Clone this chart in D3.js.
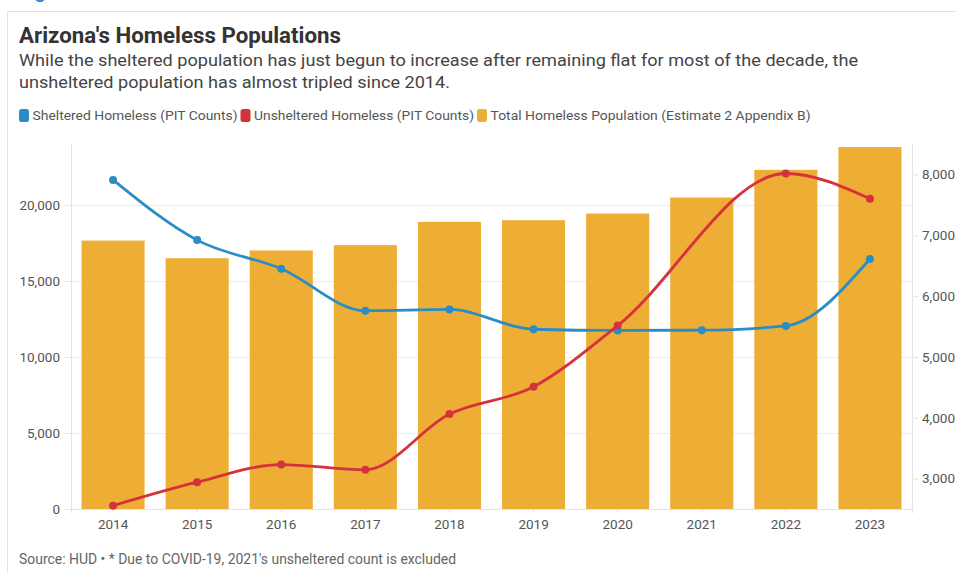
<!DOCTYPE html>
<html>
<head>
<meta charset="utf-8">
<script src="https://cdn.jsdelivr.net/npm/d3@7"></script>
<style>
  html, body { margin: 0; padding: 0; background: #fff; }
  svg { display: block; font-family: Roboto, "Noto Sans", sans-serif; }
</style>
</head>
<body>
<svg id="chart" width="956" height="573"></svg>
<script>
// Arizona homeless counts by year
const years = ["2014","2015","2016","2017","2018","2019","2020","2021","2022","2023"];
const totalEstimate = [17650, 16490, 17000, 17350, 18880, 18990, 19430, 20480, 22300, 23800];
const sheltered = [7910, 6920, 6450, 5760, 5780, 5455, 5435, 5440, 5510, 6610];
// 2021 unsheltered count was not taken (COVID-19)
const unsheltered = [2555, 2940, 3230, 3145, 4060, 4510, 5515, null, 8015, 7600];

const leftTicks = [0, 5000, 10000, 15000, 20000];
const rightTicks = [3000, 4000, 5000, 6000, 7000, 8000];

const colors = { sheltered: "#2a8dc5", unsheltered: "#d5323b", total: "#eeae36" };

const svg = d3.select("#chart");

// page frame
svg.append("line").attr("x1", 7.5).attr("x2", 956).attr("y1", 11.5).attr("y2", 11.5)
  .attr("stroke", "#e2e2e2");
svg.append("line").attr("x1", 7.5).attr("x2", 7.5).attr("y1", 11.5).attr("y2", 573)
  .attr("stroke", "#e2e2e2");
svg.append("text").attr("x", 34).attr("y", -3).attr("font-size", 22)
  .attr("fill", "#2a7fd0").text("g");

// header
svg.append("text").attr("x", 19).attr("y", 43).attr("font-size", 22)
  .attr("font-weight", 700).attr("fill", "#333")
  .attr("textLength", 322).attr("lengthAdjust", "spacingAndGlyphs")
  .text("Arizona's Homeless Populations");
const sub = svg.append("text").attr("x", 19).attr("font-size", 17.4).attr("fill", "#444");
sub.append("tspan").attr("x", 19).attr("y", 66)
  .attr("textLength", 839).attr("lengthAdjust", "spacingAndGlyphs")
  .text("While the sheltered population has just begun to increase after remaining flat for most of the decade, the");
sub.append("tspan").attr("x", 19).attr("y", 88)
  .attr("textLength", 431).attr("lengthAdjust", "spacingAndGlyphs")
  .text("unsheltered population has almost tripled since 2014.");

// legend
const legendItems = [
  { label: "Sheltered Homeless (PIT Counts)", color: colors.sheltered, w: 205 },
  { label: "Unsheltered Homeless (PIT Counts)", color: colors.unsheltered, w: 220 },
  { label: "Total Homeless Population (Estimate 2 Appendix B)", color: colors.total, w: 320 }
];
let lx = 19;
legendItems.forEach(item => {
  svg.append("rect").attr("x", lx).attr("y", 109).attr("width", 10).attr("height", 13)
    .attr("rx", 2.5).attr("fill", item.color);
  svg.append("text").attr("x", lx + 13.5).attr("y", 120).attr("font-size", 13.6)
    .attr("fill", "#555").attr("textLength", item.w).attr("lengthAdjust", "spacingAndGlyphs")
    .text(item.label);
  lx += 13.5 + item.w + 3;
});

// plot area
const plot = { left: 71, right: 912, top: 144, bottom: 509 };

const x = d3.scaleBand().domain(years).range([plot.left, plot.right])
  .paddingInner(0.25).paddingOuter(0.125);
const yLeft = d3.scaleLinear().domain([0, 24000]).range([plot.bottom, plot.top]);
const yRight = d3.scaleLinear().domain([2500, 8500]).range([plot.bottom, plot.top]);

// gridlines
svg.append("g").selectAll("line").data(leftTicks.filter(d => d > 0)).join("line")
  .attr("x1", plot.left).attr("x2", plot.right)
  .attr("y1", d => Math.round(yLeft(d)) + 0.5).attr("y2", d => Math.round(yLeft(d)) + 0.5)
  .attr("stroke", "#ececec");

// axes
const fmt = d3.format(",");
const gL = svg.append("g").attr("transform", `translate(${plot.left},0)`)
  .call(d3.axisLeft(yLeft).tickValues(leftTicks).tickFormat(fmt).tickSize(7).tickPadding(4));
const gR = svg.append("g").attr("transform", `translate(${plot.right},0)`)
  .call(d3.axisRight(yRight).tickValues(rightTicks).tickFormat(fmt).tickSize(6).tickPadding(4));
const gX = svg.append("g").attr("transform", `translate(0,${plot.bottom})`)
  .call(d3.axisBottom(x).tickSize(4).tickPadding(6));
[gL, gR, gX].forEach(g => {
  g.select(".domain").attr("stroke", "#e4e4e4");
  g.selectAll(".tick line").attr("stroke", "#e4e4e4");
  g.selectAll(".tick text").attr("font-family", "Roboto, sans-serif")
    .attr("font-size", 13.5).attr("fill", "#555");
});
gL.select(".domain").attr("d", `M0.5,${plot.top}V${plot.bottom}`);
gR.select(".domain").attr("d", `M0.5,${plot.top}V${plot.bottom}`);

// bars: total estimate
svg.append("g").selectAll("rect").data(years).join("rect")
  .attr("x", d => x(d)).attr("width", x.bandwidth())
  .attr("y", (d, i) => yLeft(totalEstimate[i]))
  .attr("height", (d, i) => yLeft(0) - yLeft(totalEstimate[i]))
  .attr("fill", colors.total);

// lines
function drawSeries(values, color) {
  const pts = years.map((yr, i) => ({ yr, v: values[i] })).filter(p => p.v != null);
  const line = d3.line().x(p => x(p.yr) + x.bandwidth() / 2).y(p => yRight(p.v))
    .curve(d3.curveMonotoneX);
  svg.append("path").datum(pts).attr("d", line).attr("fill", "none")
    .attr("stroke", color).attr("stroke-width", 2.8).attr("stroke-linejoin", "round");
  svg.append("g").selectAll("circle").data(pts).join("circle")
    .attr("cx", p => x(p.yr) + x.bandwidth() / 2).attr("cy", p => yRight(p.v))
    .attr("r", 4).attr("fill", color);
}
drawSeries(sheltered, colors.sheltered);
drawSeries(unsheltered, colors.unsheltered);

// source note
svg.append("text").attr("x", 19).attr("y", 564).attr("font-size", 13.8).attr("fill", "#666")
  .attr("textLength", 437).attr("lengthAdjust", "spacingAndGlyphs")
  .text("Source: HUD \u2022 * Due to COVID-19, 2021's unsheltered count is excluded");
</script>
</body>
</html>
